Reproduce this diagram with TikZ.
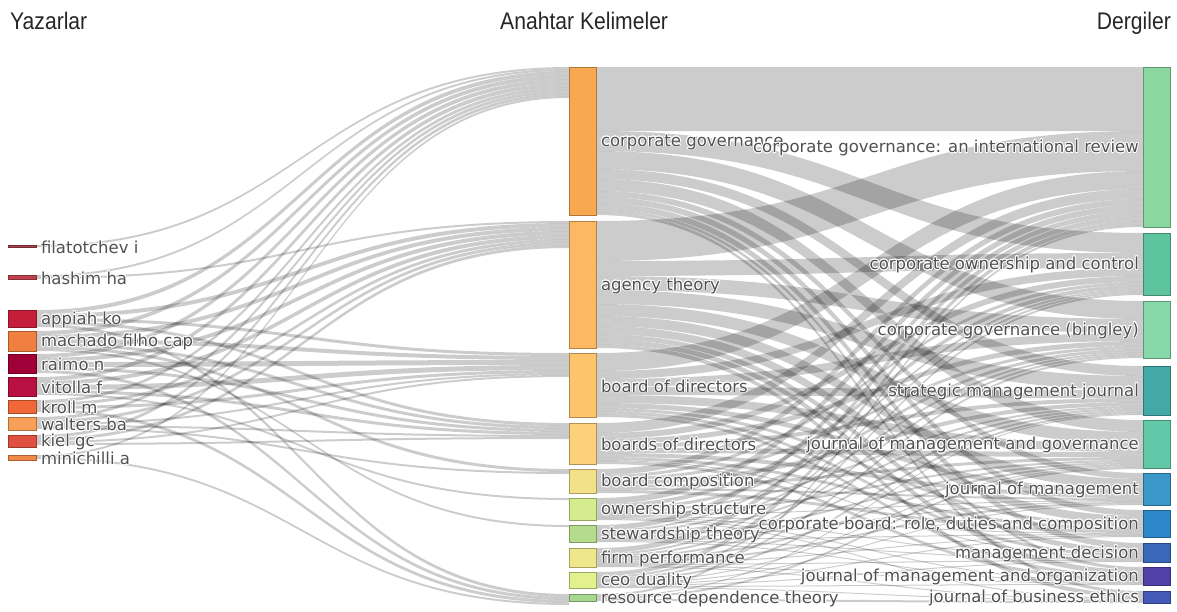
\documentclass[tikz,border=0pt]{standalone}
\usepackage{fontspec}
\usepackage{contour}
\usetikzlibrary{positioning}
\setmainfont{DejaVu Sans}
\newfontfamily\headfont[FakeStretch=0.88]{Liberation Sans}
\contourlength{0.8pt}
\pgfdeclarelayer{flows}
\pgfsetlayers{flows,main}

% authors
\definecolor{cFil}{HTML}{A8404E}
\definecolor{cHas}{HTML}{C0404C}
\definecolor{cApp}{HTML}{C41E3A}
\definecolor{cMac}{HTML}{F08040}
\definecolor{cRai}{HTML}{A00038}
\definecolor{cVit}{HTML}{B81040}
\definecolor{cKro}{HTML}{F06838}
\definecolor{cWal}{HTML}{F8A058}
\definecolor{cKie}{HTML}{E05040}
\definecolor{cMin}{HTML}{F08848}
% keywords
\definecolor{cCg}{HTML}{F8A850}
\definecolor{cAt}{HTML}{FDB863}
\definecolor{cBod}{HTML}{FDC46C}
\definecolor{cBsod}{HTML}{FDD07A}
\definecolor{cBc}{HTML}{F5E08A}
\definecolor{cOs}{HTML}{D4EC8E}
\definecolor{cSt}{HTML}{B4DC8C}
\definecolor{cFp}{HTML}{F0E68C}
\definecolor{cCeo}{HTML}{E2F08E}
\definecolor{cRdt}{HTML}{A8D890}
% journals
\definecolor{cCgir}{HTML}{8AD8A0}
\definecolor{cCoc}{HTML}{5EC4A0}
\definecolor{cCgb}{HTML}{86D8A8}
\definecolor{cSmj}{HTML}{42A8A8}
\definecolor{cJmg}{HTML}{62C8A8}
\definecolor{cJom}{HTML}{3A98C8}
\definecolor{cCb}{HTML}{2C88C8}
\definecolor{cMd}{HTML}{3A68B8}
\definecolor{cJmo}{HTML}{5040A8}
\definecolor{cJbe}{HTML}{4458B8}
\definecolor{lblgray}{HTML}{505050}

\tikzset{
    unitBox/.style={rectangle, inner sep=0pt, anchor=north west, line width=0.8pt, fill=#1, draw=#1!70!black},
    authorBox/.style={unitBox=#1, minimum width=28pt},
    fieldBox/.style={unitBox=#1, minimum width=27pt},
    nodeLabel/.style={font=\fontsize{16.5}{18}\selectfont, text=lblgray, inner sep=1pt, label distance=3pt, yshift=-1pt},
    flowBand/.style={fill=black, fill opacity=0.2},
    header/.style={font=\headfont\fontsize{24}{26}\selectfont, text=black!85, inner sep=0pt},
}
% band from source to target, stacked on both ends
\newcommand{\flow}[4][270]{%
    \pgfmathsetmacro{\fOut}{\csname flowout#2\endcsname}%
    \pgfmathsetmacro{\fIn}{\csname flowin#3\endcsname}%
    \fill[flowBand] ([yshift=-\fOut pt]#2.north east) .. controls +(#1,0) and +(-#1,0) .. ([yshift=-\fIn pt]#3.north west)
        -- ([yshift=-\fIn pt-#4pt]#3.north west) .. controls +(-#1,0) and +(#1,0) .. ([yshift=-\fOut pt-#4pt]#2.north east) -- cycle;
    \pgfmathsetmacro{\fOut}{\fOut+#4}\expandafter\xdef\csname flowout#2\endcsname{\fOut}%
    \pgfmathsetmacro{\fIn}{\fIn+#4}\expandafter\xdef\csname flowin#3\endcsname{\fIn}%
}
\newcommand{\lbl}[1]{\contour{white}{#1}}

\begin{document}
\begin{tikzpicture}[x=1pt, y=-1pt]
    \useasboundingbox (0,0) rectangle (1177,611);

    \node[header, anchor=base west] (hAuthors) at (10,29) {Yazarlar};
    \node[header, anchor=base west] (hKeywords) at (500,29) {Anahtar Kelimeler};
    \node[header, anchor=base east] (hJournals) at (1171,29) {Dergiler};

    % authors
    \node[authorBox=cFil, minimum height=2pt, label={[nodeLabel]right:{\lbl{filatotchev i}}}] (fil) at (8,245) {};
    \node[authorBox=cHas, minimum height=4pt, label={[nodeLabel]right:{\lbl{hashim ha}}}] (has) at (8,275) {};
    \node[authorBox=cApp, minimum height=17pt, label={[nodeLabel]right:{\lbl{appiah ko}}}] (app) at (8,310) {};
    \node[authorBox=cMac, minimum height=20pt, label={[nodeLabel]right:{\lbl{machado filho cap}}}] (mac) at (8,331) {};
    \node[authorBox=cRai, minimum height=19pt, label={[nodeLabel]right:{\lbl{raimo n}}}] (rai) at (8,354) {};
    \node[authorBox=cVit, minimum height=19pt, label={[nodeLabel]right:{\lbl{vitolla f}}}] (vit) at (8,377) {};
    \node[authorBox=cKro, minimum height=13pt, label={[nodeLabel]right:{\lbl{kroll m}}}] (kro) at (8,400) {};
    \node[authorBox=cWal, minimum height=13pt, label={[nodeLabel]right:{\lbl{walters ba}}}] (wal) at (8,417) {};
    \node[authorBox=cKie, minimum height=12pt, label={[nodeLabel]right:{\lbl{kiel gc}}}] (kie) at (8,435) {};
    \node[authorBox=cMin, minimum height=5pt, label={[nodeLabel]right:{\lbl{minichilli a}}}] (min) at (8,455) {};

    % keywords
    \node[fieldBox=cCg, minimum height=148pt, label={[nodeLabel]right:{\lbl{corporate governance}}}] (cg) at (569,67) {};
    \node[fieldBox=cAt, minimum height=127pt, label={[nodeLabel]right:{\lbl{agency theory}}}] (at) at (569,221) {};
    \node[fieldBox=cBod, minimum height=64pt, label={[nodeLabel]right:{\lbl{board of directors}}}] (bod) at (569,353) {};
    \node[fieldBox=cBsod, minimum height=41pt, label={[nodeLabel]right:{\lbl{boards of directors}}}] (bsod) at (569,423) {};
    \node[fieldBox=cBc, minimum height=24pt, label={[nodeLabel]right:{\lbl{board composition}}}] (bc) at (569,469) {};
    \node[fieldBox=cOs, minimum height=22pt, label={[nodeLabel]right:{\lbl{ownership structure}}}] (os) at (569,498) {};
    \node[fieldBox=cSt, minimum height=17pt, label={[nodeLabel]right:{\lbl{stewardship theory}}}] (st) at (569,525) {};
    \node[fieldBox=cFp, minimum height=19pt, label={[nodeLabel]right:{\lbl{firm performance}}}] (fp) at (569,548) {};
    \node[fieldBox=cCeo, minimum height=16pt, label={[nodeLabel]right:{\lbl{ceo duality}}}] (ceo) at (569,572) {};
    \node[fieldBox=cRdt, minimum height=7pt, label={[nodeLabel]right:{\lbl{resource dependence theory}}}] (rdt) at (569,594) {};

    % journals
    \node[fieldBox=cCgir, minimum height=160pt, label={[nodeLabel]left:{\lbl{corporate governance: an international review}}}] (cgir) at (1143,67) {};
    \node[fieldBox=cCoc, minimum height=62pt, label={[nodeLabel]left:{\lbl{corporate ownership and control}}}] (coc) at (1143,233) {};
    \node[fieldBox=cCgb, minimum height=57pt, label={[nodeLabel]left:{\lbl{corporate governance (bingley)}}}] (cgb) at (1143,301) {};
    \node[fieldBox=cSmj, minimum height=49pt, label={[nodeLabel]left:{\lbl{strategic management journal}}}] (smj) at (1143,366) {};
    \node[fieldBox=cJmg, minimum height=48pt, label={[nodeLabel]left:{\lbl{journal of management and governance}}}] (jmg) at (1143,420) {};
    \node[fieldBox=cJom, minimum height=32pt, label={[nodeLabel]left:{\lbl{journal of management}}}] (jom) at (1143,473) {};
    \node[fieldBox=cCb, minimum height=27pt, label={[nodeLabel]left:{\lbl{corporate board: role, duties and composition}}}] (cb) at (1143,510) {};
    \node[fieldBox=cMd, minimum height=19pt, label={[nodeLabel]left:{\lbl{management decision}}}] (md) at (1143,543) {};
    \node[fieldBox=cJmo, minimum height=18pt, label={[nodeLabel]left:{\lbl{journal of management and organization}}}] (jmo) at (1143,567) {};
    \node[fieldBox=cJbe, minimum height=12pt, label={[nodeLabel]left:{\lbl{journal of business ethics}}}] (jbe) at (1143,591) {};

    \foreach \n in {fil,has,app,mac,rai,vit,kro,wal,kie,min,cg,at,bod,bsod,bc,os,st,fp,ceo,rdt,cgir,coc,cgb,smj,jmg,jom,cb,md,jmo,jbe}{
        \expandafter\xdef\csname flowout\n\endcsname{0}\expandafter\xdef\csname flowin\n\endcsname{0}}

    \begin{pgfonlayer}{flows}
        % authors -> keywords
        \flow[266]{fil}{cg}{2}
        \foreach \t/\w in {cg/2, at/2} \flow[266]{has}{\t}{\w};
        \foreach \t/\w in {cg/4, at/4, bod/3, bsod/3, rdt/3} \flow[266]{app}{\t}{\w};
        \foreach \t/\w in {cg/4, at/4, bod/4, bsod/3, bc/3, st/2} \flow[266]{mac}{\t}{\w};
        \foreach \t/\w in {cg/4, at/4, bod/5, bsod/3, rdt/3} \flow[266]{rai}{\t}{\w};
        \foreach \t/\w in {cg/4, at/4, bod/5, bsod/3, os/2} \flow[266]{vit}{\t}{\w};
        \foreach \t/\w in {cg/3, at/3, bod/3, rdt/3} \flow[266]{kro}{\t}{\w};
        \foreach \t/\w in {cg/3, at/3, bod/2, bsod/2, bc/2} \flow[266]{wal}{\t}{\w};
        \foreach \t/\w in {cg/3, at/3, bod/2, bsod/2} \flow[266]{kie}{\t}{\w};
        \foreach \t/\w in {cg/2, rdt/2} \flow[266]{min}{\t}{\w};
        % keywords -> journals
        \foreach \t/\w in {cgir/64, coc/20, cgb/18, smj/10, jmg/12, jom/6, cb/6, md/6, jmo/3, jbe/3} \flow[273]{cg}{\t}{\w};
        \foreach \t/\w in {cgir/40, coc/15, cgb/14, smj/14, jmg/12, jom/10, cb/8, md/5, jmo/5, jbe/4} \flow[273]{at}{\t}{\w};
        \foreach \t/\w in {cgir/18, coc/8, cgb/8, smj/8, jmg/8, jom/5, cb/3, md/3, jmo/3} \flow[273]{bod}{\t}{\w};
        \foreach \t/\w in {cgir/10, coc/6, cgb/5, smj/4, jmg/5, jom/4, cb/3, md/1, jmo/3} \flow[273]{bsod}{\t}{\w};
        \foreach \t/\w in {cgir/6, coc/3, cgb/3, smj/4, jmg/3, jom/2, cb/3} \flow[273]{bc}{\t}{\w};
        \foreach \t/\w in {cgir/6, coc/4, cgb/3, smj/2, jmg/2, jom/1, cb/1, md/1, jmo/1, jbe/1} \flow[273]{os}{\t}{\w};
        \foreach \t/\w in {cgir/5, coc/2, cgb/2, smj/2, jmg/2, jom/1, cb/1, md/1, jmo/1} \flow[273]{st}{\t}{\w};
        \foreach \t/\w in {cgir/5, coc/2, cgb/2, smj/2, jmg/2, jom/2, cb/1, md/1, jmo/1, jbe/1} \flow[273]{fp}{\t}{\w};
        \foreach \t/\w in {cgir/4, coc/2, cgb/2, smj/2, jmg/1, jom/1, cb/1, md/1, jmo/1, jbe/1} \flow[273]{ceo}{\t}{\w};
        \foreach \t/\w in {cgir/2, smj/1, jmg/2, jbe/2} \flow[273]{rdt}{\t}{\w};
    \end{pgfonlayer}

\end{tikzpicture}
\end{document}
